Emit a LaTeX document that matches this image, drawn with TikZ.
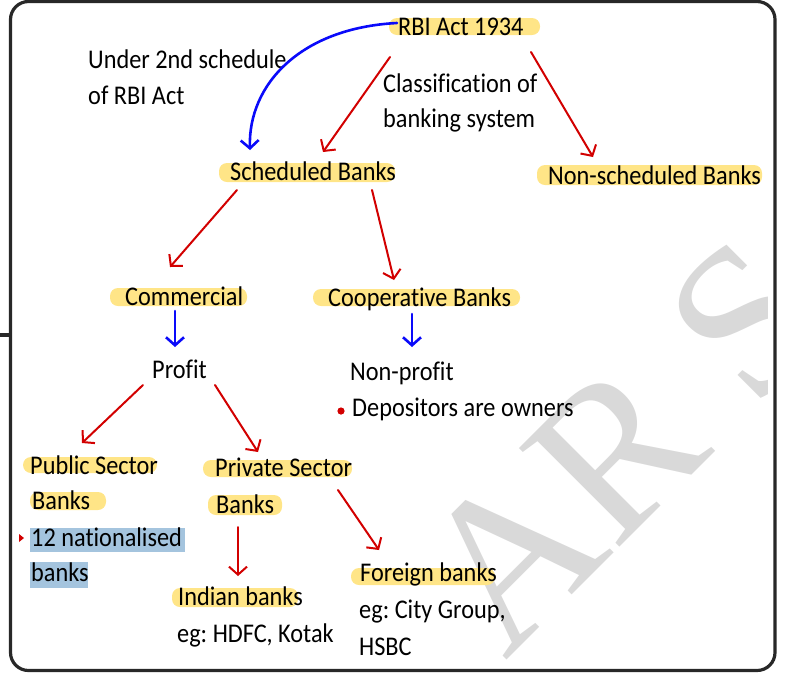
\documentclass[tikz,border=0pt]{standalone}
\usepackage{fontspec}
\setmainfont[FakeStretch=0.9, Ligatures=NoCommon]{Carlito}
\newfontfamily\markfont{Liberation Serif}
\usetikzlibrary{arrows.meta}
\frenchspacing

\definecolor{hlyellow}{RGB}{255,229,135}
\definecolor{hlblue}{RGB}{164,196,222}
\definecolor{penred}{RGB}{210,0,0}
\definecolor{penblue}{RGB}{10,10,250}
\definecolor{framegray}{RGB}{40,40,40}
\definecolor{markgray}{RGB}{217,217,217}

\tikzset{
  lbl/.style={anchor=base west, inner sep=0pt, font=\fontsize{27}{31}\selectfont},
  hl/.style={fill=hlyellow, rounded corners=8pt},
  hlb/.style={fill=hlblue},
  redarrow/.style={draw=penred, line width=2pt, line cap=round, line join=round,
    -{Straight Barb[length=8pt, width=18pt, line width=2pt]}},
  bluearrow/.style={draw=penblue, line width=2.6pt, line cap=round, line join=round,
    -{Straight Barb[length=8pt, width=18pt, line width=2.6pt]}},
}

\begin{document}
\begin{tikzpicture}[x=1pt, y=-1pt]
\useasboundingbox (0,0) rectangle (786,681);

% watermark
\begin{scope}
  \clip (14,4) rectangle (767,662);
  \node[text=markgray, font=\markfont\fontsize{215}{215}\selectfont, rotate=45,
        inner sep=0pt, anchor=base west]
    at (505,662) {AR S};
\end{scope}

% frame
\draw[framegray, line width=3.2pt, rounded corners=18pt] (10.5,1.5) rectangle (775,670.5);
\draw[framegray, line width=3.2pt] (0,335) -- (10.5,335);

% highlights
\fill[hl] (389,18) rectangle (540,35);
\fill[hl] (219,163) rectangle (395,182);
\fill[hl] (537,165) rectangle (762,185);
\fill[hl] (110,288) rectangle (247,306);
\fill[hl] (313,289) rectangle (520,306);
\fill[hl] (23,457) rectangle (157,473);
\fill[hl] (30,492) rectangle (106,510);
\fill[hl] (203,460) rectangle (352,477);
\fill[hl] (208,495) rectangle (282,515);
\fill[hl] (172,588) rectangle (298,607);
\fill[hl] (351,568) rectangle (495,585);
\fill[hlb] (30,528) rectangle (185,552);
\fill[hlb] (30,562) rectangle (88,588);

% labels
\node[lbl] (rbi) at (398,35) {RBI Act 1934};
\node[lbl] (under1) at (88,68) {Under 2nd schedule};
\node[lbl] (under2) at (88,104) {of RBI Act};
\node[lbl] (class1) at (383,92) {Classification of};
\node[lbl] (class2) at (383,127) {banking system};
\node[lbl] (sched) at (230,180) {Scheduled Banks};
\node[lbl] (nonsched) at (548,184) {Non-scheduled Banks};
\node[lbl] (comm) at (125,305) {Commercial};
\node[lbl] (coop) at (328,306) {Cooperative Banks};
\node[lbl] (profit) at (152,378) {Profit};
\node[lbl] (nonprofit) at (350,380) {Non-profit};
\node[lbl] (owners) at (352,416) {Depositors are owners};
\node[lbl] (pub1) at (30,474) {Public Sector};
\node[lbl] (pub2) at (32,509) {Banks};
\node[lbl] (nat1) at (31,546) {12 nationalised};
\node[lbl] (nat2) at (31,581) {banks};
\node[lbl] (priv1) at (215,476) {Private Sector};
\node[lbl] (priv2) at (216,513) {Banks};
\node[lbl] (indian) at (178,605) {Indian banks};
\node[lbl] (indeg) at (177,642) {eg: HDFC, Kotak};
\node[lbl] (foreign) at (360,581) {Foreign banks};
\node[lbl] (foreg1) at (359,618) {eg: City Group,};
\node[lbl] (foreg2) at (359,655) {HSBC};

% bullets
\fill[penred] ([shift={(-11,-5)}]owners.base west) circle (3.6pt);
\fill[penred] ([shift={(-12,-12)}]nat1.base west) -- ++(5,4) -- ++(-5,4) -- cycle;

% connectors
\draw[bluearrow] ([shift={(-1,-12)}]rbi.base west) .. controls +(-97,5) and +(-2,-65) .. ([shift={(20,-30)}]sched.base west);
\draw[redarrow] ([shift={(-8,22)}]rbi.base west) -- ([shift={(93,-28)}]sched.base west);
\draw[redarrow] ([shift={(133,17)}]rbi.base west) -- ([shift={(45,-27)}]nonsched.base west);
\draw[redarrow] ([shift={(7,10)}]sched.base west) -- ([shift={(45,-38)}]comm.base west);
\draw[redarrow] ([shift={(142,10)}]sched.base west) -- ([shift={(66,-26)}]coop.base west);
\draw[bluearrow] ([shift={(50,6)}]comm.base west) -- ([shift={(23,-31)}]profit.base west);
\draw[bluearrow] ([shift={(84,8)}]coop.base west) -- ([shift={(62,-33)}]nonprofit.base west);
\draw[redarrow] ([shift={(-9,7)}]profit.base west) -- ([shift={(52,-31)}]pub1.base west);
\draw[redarrow] ([shift={(63,7)}]profit.base west) -- ([shift={(43,-24)}]priv1.base west);
\draw[redarrow] ([shift={(22,14)}]priv2.base west) -- ([shift={(60,-29)}]indian.base west);
\draw[redarrow] ([shift={(123,14)}]priv1.base west) -- ([shift={(19,-31)}]foreign.base west);
\end{tikzpicture}
\end{document}
